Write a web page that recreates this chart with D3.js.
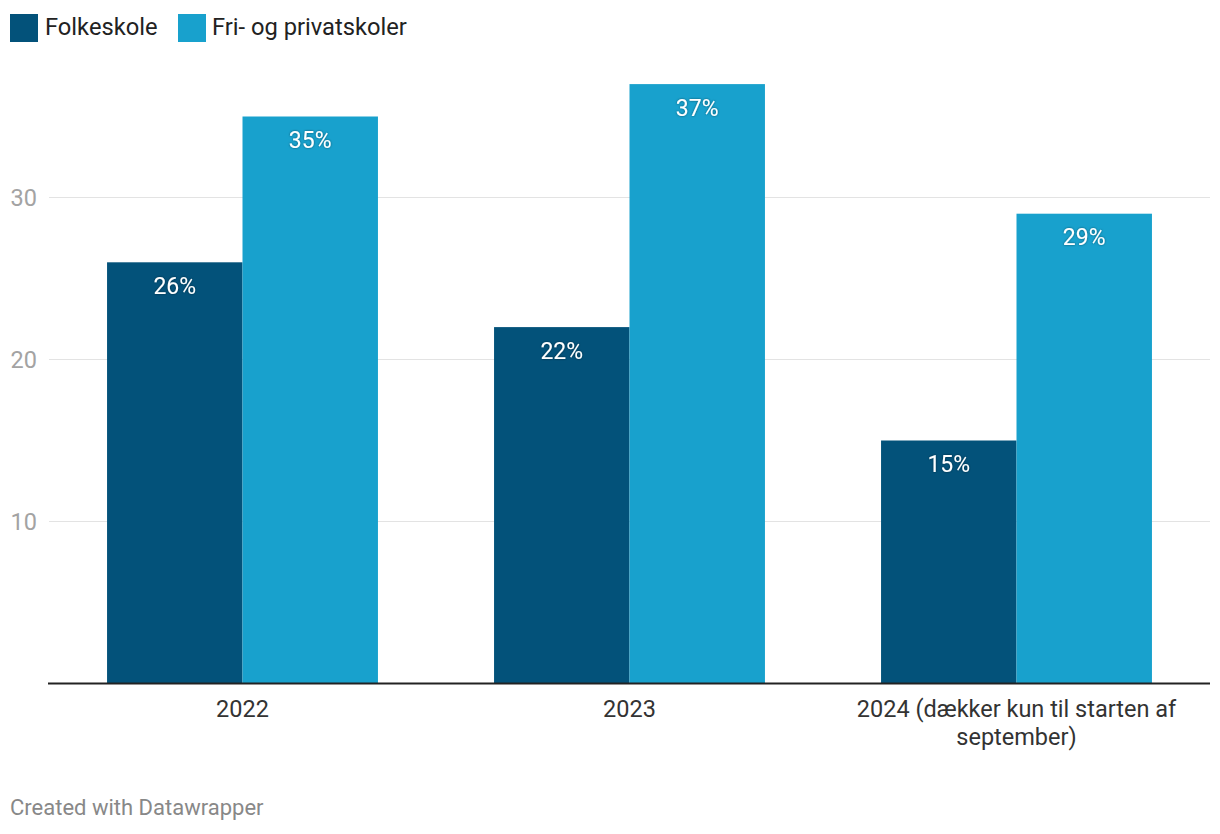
<!DOCTYPE html>
<html><head><meta charset="utf-8">
<script src="https://cdn.jsdelivr.net/npm/d3@7"></script>
<style>
body{margin:0;background:#fff;font-family:Roboto,"Noto Sans",sans-serif;}
</style></head>
<body><svg id="c" width="1220" height="834"></svg>
<script>
const categories = ["2022", "2023", "2024 (dækker kun til starten af september)"];
const categoryLines = [["2022"], ["2023"], ["2024 (dækker kun til starten af", "september)"]];
const seriesNames = ["Folkeskole", "Fri- og privatskoler"];
const folkeskole = [26, 22, 15];
const friPrivat = [35, 37, 29];
const yTicks = [10, 20, 30];
const colors = ["#03527a", "#18a1cd"];

const svg = d3.select("#c");
const x = d3.scaleBand().domain(categories).range([49, 1210]).paddingInner(0.3).paddingOuter(0.15);
const y = d3.scaleLinear().domain([0, 10]).range([683.5, 521.5]);
const xs = d3.scaleBand().domain(seriesNames).range([0, x.bandwidth()]);

const defs = svg.append("defs");
const f = defs.append("filter").attr("id","sh").attr("x","-20%").attr("y","-20%").attr("width","140%").attr("height","140%");
f.append("feDropShadow").attr("dx",0).attr("dy",0).attr("stdDeviation",1.2).attr("flood-color","#000").attr("flood-opacity",0.5);

// grid
const g = svg.append("g");
g.selectAll("line.grid").data(yTicks).enter().append("line")
  .attr("x1", 49).attr("x2", 1210).attr("y1", d => y(d)).attr("y2", d => y(d))
  .attr("stroke", "#e3e3e3").attr("stroke-width", 1);
g.selectAll("text.yt").data(yTicks).enter().append("text")
  .attr("x", 37).attr("y", d => y(d)).attr("dy", "0.35em").attr("text-anchor", "end")
  .attr("font-size", 23.5).attr("fill", "#a3a3a3").text(d => d);

const series = [folkeskole, friPrivat];
series.forEach((vals, si) => {
  const gg = svg.append("g");
  gg.selectAll("rect").data(categories).enter().append("rect")
    .attr("x", (c) => x(c) + xs(seriesNames[si]))
    .attr("width", xs.bandwidth())
    .attr("y", (c, i) => y(vals[i]))
    .attr("height", (c, i) => y(0) - y(vals[i]))
    .attr("fill", colors[si]);
  gg.selectAll("text").data(categories).enter().append("text")
    .attr("x", (c) => x(c) + xs(seriesNames[si]) + xs.bandwidth() / 2)
    .attr("y", (c, i) => y(vals[i]) + 31.5)
    .attr("text-anchor", "middle").attr("font-size", 23).attr("fill", "#fff")
    .attr("filter", "url(#sh)")
    .text((c, i) => vals[i] + "%");
});

// axis line
svg.append("line").attr("x1", 48).attr("x2", 1210).attr("y1", y(0)).attr("y2", y(0))
  .attr("stroke", "#222").attr("stroke-width", 2);

// x labels
categories.forEach((c, i) => {
  const t = svg.append("text").attr("text-anchor", "middle").attr("font-size", 23.5).attr("fill", "#333");
  categoryLines[i].forEach((ln, j) => {
    t.append("tspan").attr("x", x(c) + x.bandwidth() / 2).attr("y", 716.5 + j * 28).text(ln);
  });
});

// legend
const leg = [{x:10, tx:45}, {x:178, tx:212}];
seriesNames.forEach((n, i) => {
  svg.append("rect").attr("x", leg[i].x).attr("y", 14).attr("width", 28).attr("height", 28).attr("fill", colors[i]);
  svg.append("text").attr("x", leg[i].tx).attr("y", 35).attr("font-size", 23.7).attr("fill", "#222").text(n);
});

svg.append("text").attr("x", 10).attr("y", 815).attr("font-size", 22).attr("fill", "#888").text("Created with Datawrapper");
</script></body></html>
